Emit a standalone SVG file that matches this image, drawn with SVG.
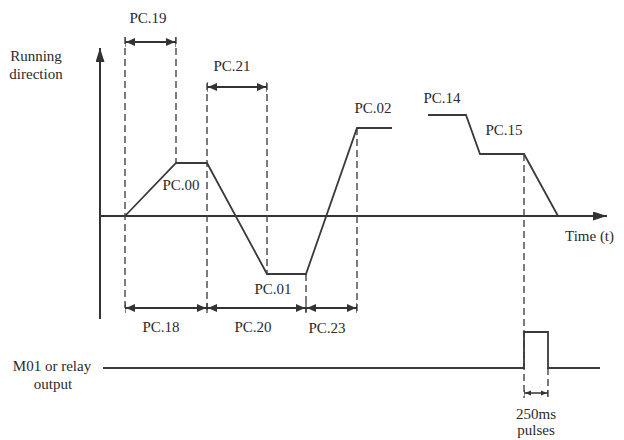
<svg xmlns="http://www.w3.org/2000/svg" width="624" height="440" viewBox="0 0 624 440">
<style>
text{font-family:"Liberation Serif","DejaVu Serif","Times New Roman",serif;font-size:15px;fill:#2a2a2a;text-anchor:middle}
.ln{fill:none;stroke:#3a3a3a;stroke-width:1.8}
.ax{fill:none;stroke:#333;stroke-width:2}
.ds{fill:none;stroke:#444;stroke-width:1.4;stroke-dasharray:7 4}
.dim{fill:none;stroke:#333;stroke-width:2;marker-start:url(#dh);marker-end:url(#dh)}
.dims{fill:none;stroke:#333;stroke-width:1.5;marker-start:url(#dhs);marker-end:url(#dhs)}
</style>
<defs>
<marker id="ah" viewBox="0 0 14 9" refX="14" refY="4.5" markerWidth="14" markerHeight="9" markerUnits="userSpaceOnUse" orient="auto"><path d="M0,0L14,4.5L0,9z" fill="#333"/></marker>
<marker id="dh" viewBox="0 0 10 10" refX="10" refY="5" markerWidth="10" markerHeight="10" markerUnits="userSpaceOnUse" orient="auto-start-reverse"><path d="M0,1L9,5L0,9z" fill="#333"/><path d="M10,0V10" stroke="#333" stroke-width="1.2"/></marker>
<marker id="dhs" viewBox="0 0 7 7" refX="7" refY="3.5" markerWidth="7" markerHeight="7" markerUnits="userSpaceOnUse" orient="auto-start-reverse"><path d="M0,1L6,3.5L0,6z" fill="#333"/><path d="M7,0V7" stroke="#333" stroke-width="1"/></marker>
</defs>
<g id="axes">
<line class="ax" x1="100" y1="319" x2="100" y2="48" marker-end="url(#ah)"/>
<line class="ax" x1="100" y1="216" x2="607" y2="216" marker-end="url(#ah)"/>
</g>
<g id="guides">
<line class="ds" x1="125" y1="37" x2="125" y2="310"/>
<line class="ds" x1="176" y1="37" x2="176" y2="163"/>
<line class="ds" x1="207" y1="83" x2="207" y2="310"/>
<line class="ds" x1="267" y1="83" x2="267" y2="274"/>
<line class="ds" x1="306" y1="274" x2="306" y2="312"/>
<line class="ds" x1="357" y1="128" x2="357" y2="312"/>
<line class="ds" x1="524" y1="154" x2="524" y2="398"/>
<line class="ds" x1="548" y1="368" x2="548" y2="398"/>
</g>
<g id="connectors">
<polyline class="ln" points="125,216 176,163 207,163 267,274 306,274 357,128 392,128"/>
<polyline class="ln" points="428,115 466,115 480,154 524,154 558,216"/>
<polyline class="ln" points="103,368 524,368 524,332 548,332 548,368 600,368"/>
<line class="dim" x1="125" y1="42" x2="176" y2="42"/>
<line class="dim" x1="207" y1="87" x2="267" y2="87"/>
<line class="dim" x1="125" y1="308" x2="207" y2="308"/>
<line class="dim" x1="207" y1="308" x2="306" y2="308"/>
<line class="dim" x1="306" y1="308" x2="357" y2="308"/>
<line class="dims" x1="524" y1="393" x2="548" y2="393"/>
</g>
<g id="labels" font-family="Liberation Serif, serif">
<text x="36" y="61">Running</text>
<text x="36" y="79">direction</text>
<text x="148" y="23">PC.19</text>
<text x="232" y="71">PC.21</text>
<text x="181" y="190">PC.00</text>
<text x="273" y="294">PC.01</text>
<text x="373" y="113">PC.02</text>
<text x="442" y="103">PC.14</text>
<text x="504" y="135">PC.15</text>
<text x="161" y="332">PC.18</text>
<text x="253" y="332">PC.20</text>
<text x="327" y="333">PC.23</text>
<text x="565" y="241" style="text-anchor:start">Time (t)</text>
<text x="52" y="371">M01 or relay</text>
<text x="53" y="389">output</text>
<text x="536" y="419">250ms</text>
<text x="536" y="435">pulses</text>
</g>
</svg>
